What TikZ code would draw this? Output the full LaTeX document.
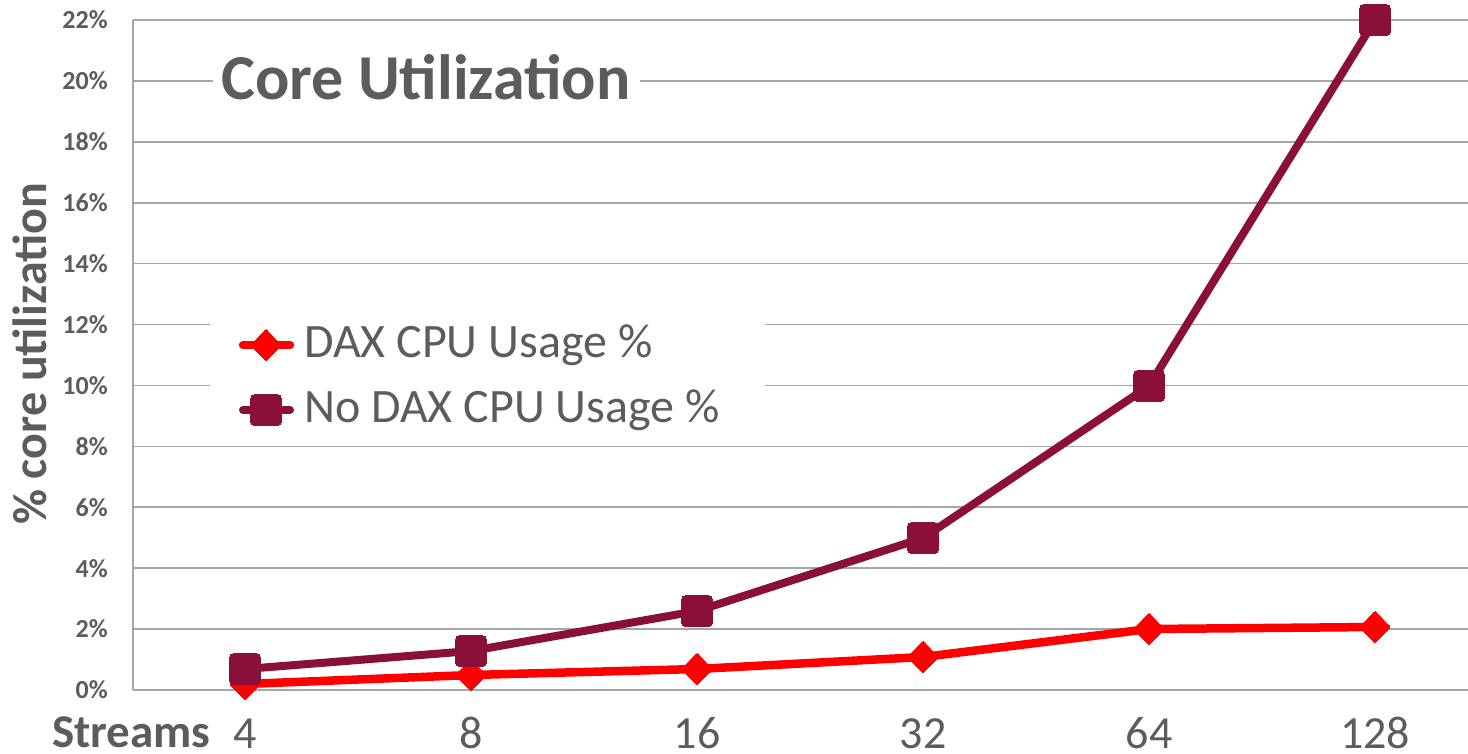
\documentclass[tikz,border=0pt]{standalone}
\usepackage{fontspec}
\setmainfont{Carlito}
\usetikzlibrary{shapes.geometric}
\definecolor{txt}{HTML}{5C5C5C}
\definecolor{grid}{HTML}{A6A6A6}
\definecolor{dax}{HTML}{FF0000}
\definecolor{nodax}{HTML}{8A1039}
\tikzset{
  gridline/.style={draw=grid, line width=1.6pt},
  ticklab/.style={text=txt, font=\fontsize{26}{28}\selectfont\bfseries, anchor=east, inner sep=0pt},
  xlab/.style={text=txt, font=\fontsize{46}{48}\selectfont, anchor=base, inner sep=0pt},
  daxmark/.style={diamond, fill=dax, draw=dax, line width=0pt, minimum width=31pt, minimum height=32pt, inner sep=0pt, rounded corners=2pt},
  noxmark/.style={rectangle, fill=nodax, draw=nodax, line width=0pt, minimum size=31pt, inner sep=0pt, rounded corners=4pt},
  daxline/.style={draw=dax, line width=8.5pt, line join=round},
  noxline/.style={draw=nodax, line width=8pt, line join=round},
  legtext/.style={text=txt, font=\fontsize{48}{50}\selectfont, anchor=west, inner sep=0pt},
}
\begin{document}
\begin{tikzpicture}[x=1pt, y=-1pt]
\useasboundingbox (0,0) rectangle (1468,753);
% gridlines
\foreach \v in {0,2,...,22} {
  \draw[gridline] (133,{690-\v*30.455}) -- (1468,{690-\v*30.455});
  \node[ticklab] at (108,{690-\v*30.455}) {\v\%};
}
\draw[gridline] (133,20) -- (133,690);
% title
\fill[white] (213,50) rectangle (640,112);
\node[text=txt, font=\fontsize{64}{66}\selectfont\bfseries, inner sep=0pt] (title) at (426,77) {Core Utilization};
% axis titles
\node[text=txt, font=\fontsize{48}{50}\selectfont\bfseries, rotate=90, inner sep=0pt] (ytitle) at (30,354) {\% core utilization};
\node[text=txt, font=\fontsize{47}{50}\selectfont\bfseries, anchor=base west, inner sep=0pt] (streams) at (52,747) {Streams};
% x labels
\foreach \lab/\x in {4/245,8/471,16/697,32/923,64/1149,128/1375} {
  \node[xlab] at (\x,748) {\lab};
}
% DAX series
\node[daxmark] (d1) at (245,684) {};
\node[daxmark] (d2) at (471,675) {};
\node[daxmark] (d3) at (697,669) {};
\node[daxmark] (d4) at (923,657) {};
\node[daxmark] (d5) at (1149,629) {};
\node[daxmark] (d6) at (1375,627) {};
\draw[daxline] (d1.center) -- (d2.center) -- (d3.center) -- (d4.center) -- (d5.center) -- (d6.center);
\foreach \n in {d1,d2,d3,d4,d5,d6} { \node[daxmark] at (\n) {}; }
% No DAX series
\node[noxmark] (n1) at (245,669) {};
\node[noxmark] (n2) at (471,651) {};
\node[noxmark] (n3) at (697,611) {};
\node[noxmark] (n4) at (923,538) {};
\node[noxmark] (n5) at (1149,386) {};
\node[noxmark] (n6) at (1375,20) {};
\draw[noxline] (n1.center) -- (n2.center) -- (n3.center) -- (n4.center) -- (n5.center) -- (n6.center);
\foreach \n in {n1,n2,n3,n4,n5,n6} { \node[noxmark] at (\n) {}; }
% legend
\fill[white] (210,300) rectangle (765,436);
\coordinate (la1) at (243,345);
\coordinate (lb1) at (290,345);
\draw[daxline, line cap=round] (la1) -- (lb1);
\node[daxmark] (ld) at (266,345) {};
\node[legtext] (lt1) at (304,345) {DAX CPU Usage \%};
\coordinate (la2) at (243,410);
\coordinate (lb2) at (290,410);
\draw[noxline, line cap=round] (la2) -- (lb2);
\node[noxmark] (ln) at (266,410) {};
\node[legtext] (lt2) at (304,410) {No DAX CPU Usage \%};
\end{tikzpicture}
\end{document}
